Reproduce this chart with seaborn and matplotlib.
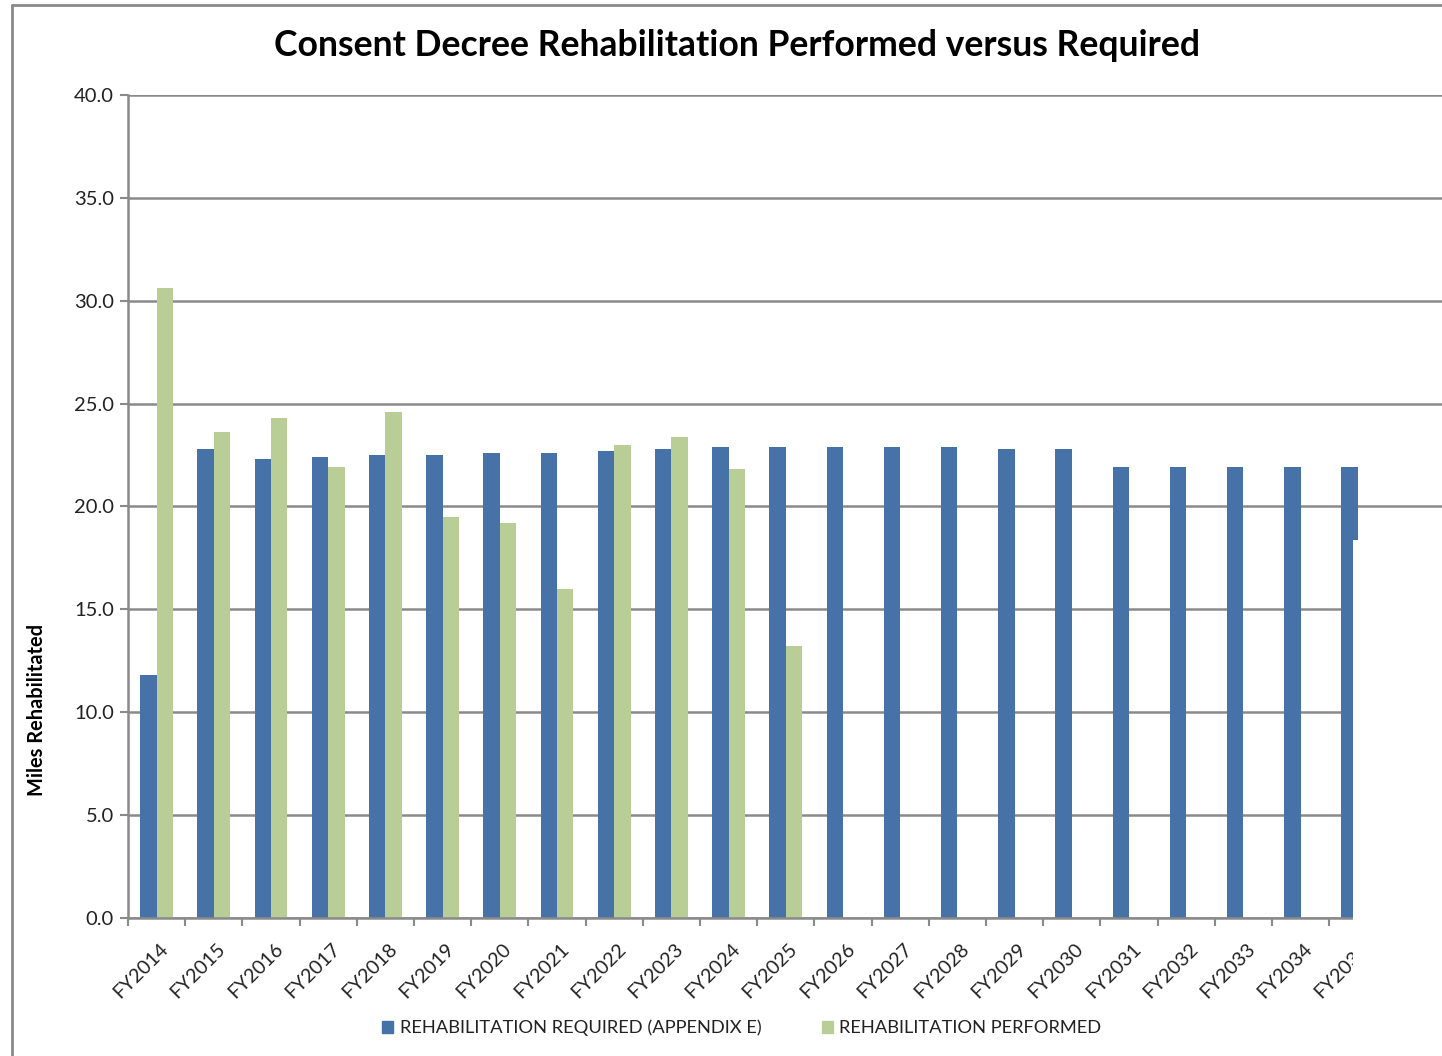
import matplotlib
matplotlib.use("Agg")
import matplotlib.pyplot as plt
from matplotlib.lines import Line2D
from matplotlib.patches import Rectangle
import seaborn as sns
import pandas as pd
import numpy as np

categories = ["FY2014", "FY2015", "FY2016", "FY2017", "FY2018", "FY2019", "FY2020",
              "FY2021", "FY2022", "FY2023", "FY2024", "FY2025", "FY2026", "FY2027",
              "FY2028", "FY2029", "FY2030", "FY2031", "FY2032", "FY2033", "FY2034", "FY2035"]
required = [11.8, 22.8, 22.3, 22.4, 22.5, 22.5, 22.6, 22.6, 22.7, 22.8, 22.9, 22.9,
            22.9, 22.9, 22.9, 22.8, 22.8, 21.9, 21.9, 21.9, 21.9, 21.9]
performed = [30.6, 23.6, 24.3, 21.9, 24.6, 19.5, 19.2, 16.0, 23.0, 23.4, 21.8, 13.2]
series_names = ["REHABILITATION REQUIRED (APPENDIX E)", "REHABILITATION PERFORMED"]
y_ticks = [0, 5, 10, 15, 20, 25, 30, 35, 40]

rows = []
for i, c in enumerate(categories):
    rows.append({"year": c, "series": series_names[0], "miles": required[i]})
    if i < len(performed):
        rows.append({"year": c, "series": series_names[1], "miles": performed[i]})
df = pd.DataFrame(rows)

sns.set_theme(style="white")
plt.rcParams["font.family"] = ["Lato", "DejaVu Sans"]

W, H = 1442, 1056
fig = plt.figure(figsize=(W / 100, H / 100), dpi=100)
ax = fig.add_axes([128 / W, 1 - 918 / H, 1 - 128 / W, (918 - 95) / H])

palette = {series_names[0]: "#4672A8", series_names[1]: "#B9CD96"}
sns.barplot(data=df, x="year", y="miles", hue="series", hue_order=series_names,
            order=categories, palette=palette, width=0.57, errorbar=None,
            saturation=1, ax=ax, zorder=3, linewidth=0)

step = 57.2
ax.set_xlim(-0.5, (W - 128) / step - 0.5)
ax.set_ylim(0, 40)
grid_c = "#8a8a8a"
ax.set_yticks(y_ticks)
ax.set_yticklabels([f"{v:.1f}" for v in y_ticks], fontsize=14.5, color="#222222")
ax.yaxis.grid(True, color=grid_c, linewidth=1.8, zorder=0)
ax.xaxis.grid(False)
for s in ["top", "right"]:
    ax.spines[s].set_visible(False)
ax.spines["left"].set_color(grid_c)
ax.spines["left"].set_linewidth(1.8)
ax.spines["bottom"].set_color(grid_c)
ax.spines["bottom"].set_linewidth(1.8)
ax.spines["bottom"].set_zorder(4)
ax.tick_params(axis="y", which="major", left=True, length=6, width=1.5, color=grid_c, pad=4)

bounds = np.arange(-0.5, len(categories), 1.0)
ax.set_xticks(bounds)
ax.set_xticklabels([""] * len(bounds))
ax.tick_params(axis="x", which="major", bottom=True, length=6, width=1.5, color=grid_c)
ax.set_xticks(np.arange(len(categories)), minor=True)
ax.set_xticklabels(categories, minor=True, rotation=45, ha="right",
                   rotation_mode="anchor", fontsize=14.2, color="#222222")
ax.tick_params(axis="x", which="minor", bottom=True, length=0, pad=16)
offset = matplotlib.transforms.ScaledTranslation(3 / 100, 0, fig.dpi_scale_trans)
for lab in ax.get_xticklabels(minor=True):
    lab.set_transform(lab.get_transform() + offset)

ax.set_xlabel("")
ax.set_ylabel("")

ax.get_legend().remove()
handles = [Rectangle((0, 0), 1, 1, color=palette[n]) for n in series_names]
fig.legend(handles, series_names, loc="center", bbox_to_anchor=(742 / W, 1 - 1028 / H),
           ncol=2, frameon=False, fontsize=13.2, handlelength=0.6, handleheight=0.6,
           handletextpad=0.35, columnspacing=3.3, labelcolor="#222222")

fig.text(737 / W, 1 - 46 / H, "Consent Decree Rehabilitation Performed versus Required",
         ha="center", va="center", fontsize=25.6, fontweight="bold", color="black")
fig.text(37 / W, 1 - 710 / H, "Miles Rehabilitated", rotation=90, ha="center",
         va="center", fontsize=14.4, fontweight="bold", color="black")

# outer chart border (left and top edges visible)
fig.add_artist(Line2D([12 / W, 12 / W], [0, 1 - 5 / H], transform=fig.transFigure,
                      color=grid_c, linewidth=2))
fig.add_artist(Line2D([12 / W, 1], [1 - 5 / H, 1 - 5 / H], transform=fig.transFigure,
                      color=grid_c, linewidth=2))
# white cover at the lower right, as in the reference screenshot
fig.add_artist(Rectangle((1353 / W, 0), 1 - 1353 / W, 1 - 540 / H,
                         transform=fig.transFigure, facecolor="white",
                         edgecolor="none", zorder=10))

fig.savefig("out.png", dpi=100)
